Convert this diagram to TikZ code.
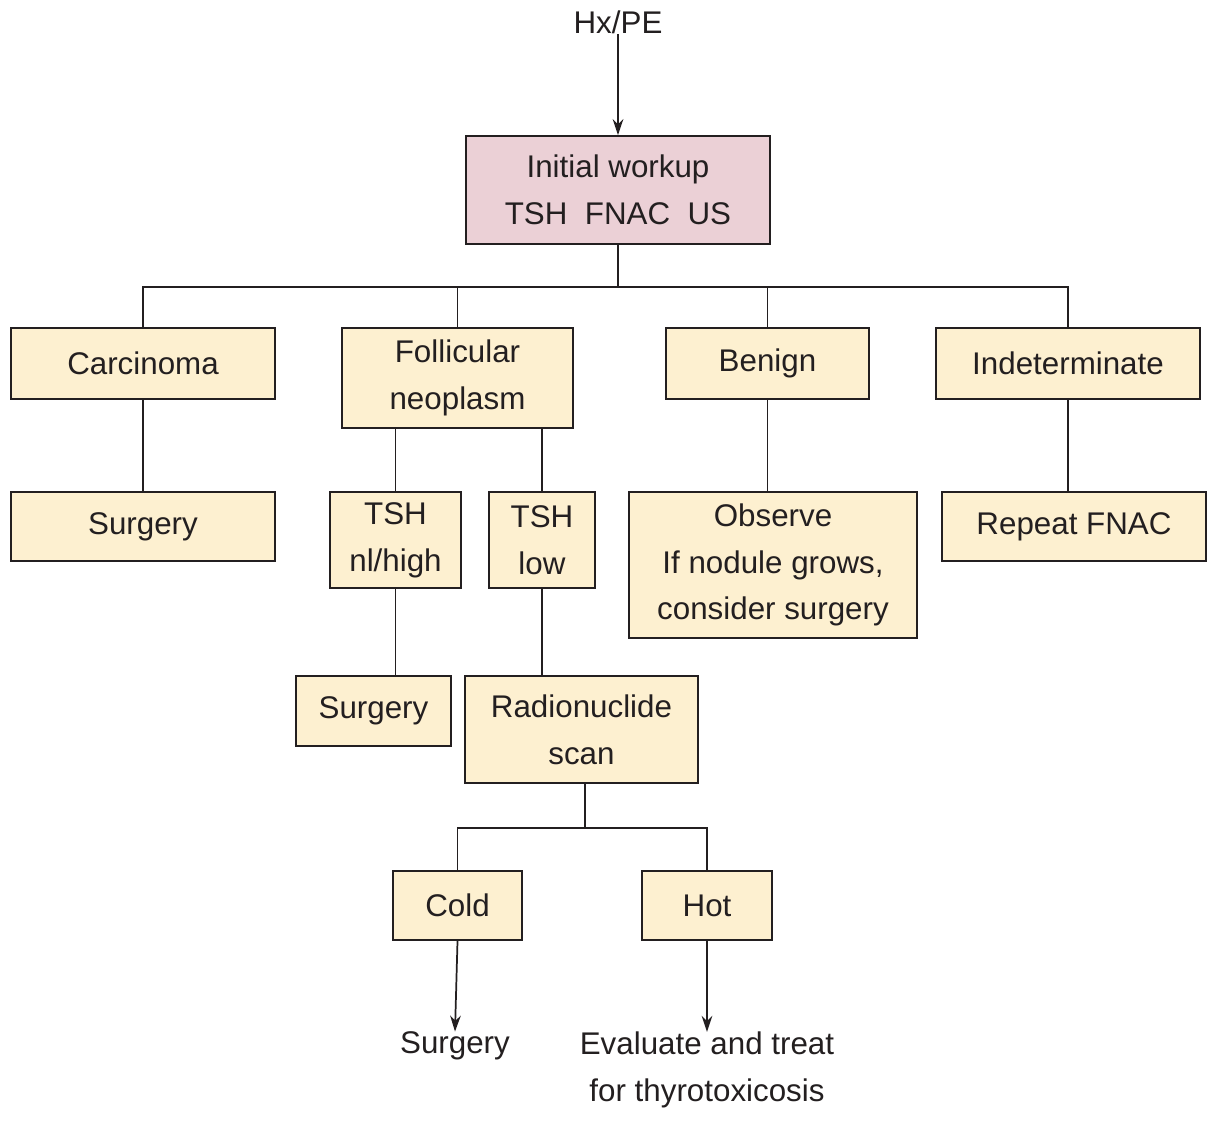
\documentclass[tikz,border=0pt]{standalone}
\usepackage{fontspec}
\setmainfont{Liberation Sans}
\usetikzlibrary{arrows.meta}
\definecolor{boxfill}{RGB}{253,240,208}
\definecolor{pinkfill}{RGB}{235,208,214}
\definecolor{ink}{RGB}{35,31,32}
\tikzset{
  box/.style={draw=ink, line width=1.3pt, fill=boxfill, align=center, inner sep=0pt, text=ink},
  lbl/.style={align=center, inner sep=0pt, text=ink},
  link/.style={draw=ink, line width=1.3pt},
  arr/.style={link, -{Stealth[length=12pt,width=8pt]}}
}
\begin{document}
\begin{tikzpicture}[x=0.75pt,y=0.75pt,yscale=-1,xscale=1,font=\fontsize{23.5}{35}\selectfont]
\useasboundingbox (0,0) rectangle (1209,1128);

%Top
\node [lbl] (hx) at (618,22) {Hx/PE};
\node [box, fill=pinkfill, minimum width=228pt, minimum height=81pt] (init) at (618,190) {Initial workup\\TSH\ \ FNAC\ \ US};
\draw [arr] (hx.south) -- (init.north);

%First row
\node [box, minimum width=198pt, minimum height=53pt] (carc) at (143,363.5) {Carcinoma};
\node [box, minimum width=173pt, minimum height=75pt] (foll) at (457.5,378) {Follicular\\neoplasm};
\node [box, minimum width=152pt, minimum height=53pt] (ben) at (767.5,363.5) {Benign};
\node [box, minimum width=198pt, minimum height=53pt] (ind) at (1068,363.5) {Indeterminate};
\coordinate (split) at (618,287);
\draw [link] (init.south) -- (split);
\draw [link] (carc.north) |- (split) -| (ind.north);
\draw [link] (foll.north) -- (foll.north |- split);
\draw [link] (ben.north) -- (ben.north |- split);

%Second row
\node [box, minimum width=198pt, minimum height=52pt] (surga) at (143,526.5) {Surgery};
\node [box, minimum width=98pt, minimum height=72pt] (tnl) at (395.5,540) {TSH\\nl/high};
\node [box, minimum width=80pt, minimum height=72pt] (tlow) at (542,540) {TSH\\low};
\node [box, minimum width=216pt, minimum height=110pt] (obs) at (773,565) {Observe\\If nodule grows,\\consider surgery};
\node [box, minimum width=198pt, minimum height=52pt] (rep) at (1074,526.5) {Repeat FNAC};
\draw [link] (carc) -- (surga);
\draw [link] (tnl.north) -- (tnl.north |- foll.south);
\draw [link] (tlow.north) -- (tlow.north |- foll.south);
\draw [link] (ben) -- (ben.south |- obs.north);
\draw [link] (ind) -- (ind.south |- rep.north);

%Third row
\node [box, minimum width=116pt, minimum height=52pt] (surgb) at (373.5,711) {Surgery};
\node [box, minimum width=175pt, minimum height=80pt] (radio) at (581.5,729.5) {Radionuclide\\scan};
\draw [link] (tnl.south) -- (tnl.south |- surgb.north);
\draw [link] (tlow.south) -- (tlow.south |- radio.north);

%Scan results
\node [box, minimum width=97pt, minimum height=52pt] (cold) at (457.5,905.5) {Cold};
\node [box, minimum width=98pt, minimum height=52pt] (hot) at (707,905.5) {Hot};
\coordinate (split2) at (585,828);
\draw [link] (radio.south -| split2) -- (split2);
\draw [link] (cold.north) |- (split2) -| (hot.north);

%Outcomes
\node [lbl] (surgc) at (455,1046) {Surgery};
\node [lbl] (evtr) at (707,1070) {Evaluate and treat\\for thyrotoxicosis};
\draw [arr] (cold.south) -- (surgc.north);
\draw [arr] (hot.south) -- (evtr.north);
\end{tikzpicture}
\end{document}
